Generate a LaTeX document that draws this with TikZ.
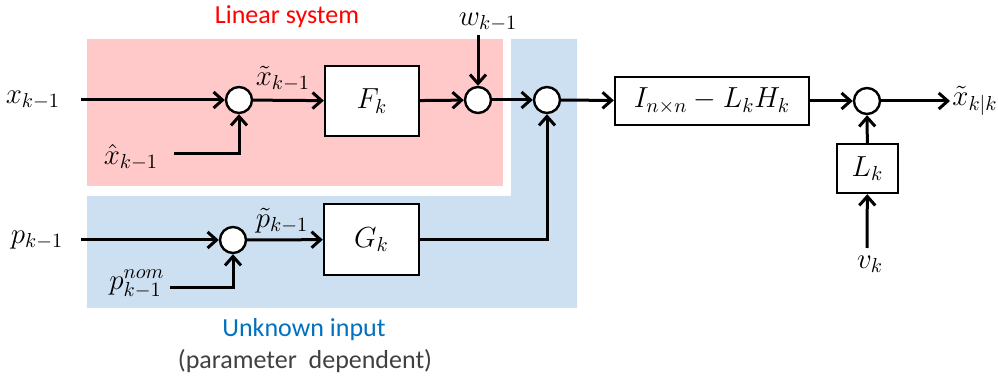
\RequirePackage{fix-cm}
\documentclass[tikz,border=0pt]{standalone}
\usepackage[no-math]{fontspec}
\newfontfamily\labelfont{Carlito}
\usetikzlibrary{arrows.meta}
\definecolor{syspink}{RGB}{255,201,201}
\definecolor{inblue}{RGB}{205,224,241}
\definecolor{inputblue}{RGB}{0,112,192}
\definecolor{notegray}{RGB}{64,64,64}

\begin{document}
\begin{tikzpicture}[x=0.5pt,y=-0.5pt,
    sig/.style={line width=1.5pt,-{Straight Barb[length=4.5pt,width=8pt]}},
    sum/.style={circle,draw,line width=1.2pt,fill=white,minimum size=13pt,inner sep=0pt},
    block/.style={draw,line width=1.2pt,fill=white,inner sep=0pt},
    var/.style={font=\fontsize{14.5}{16}\selectfont},
    caption/.style={font=\labelfont\fontsize{13}{15}\selectfont}]
    \useasboundingbox (0,0) rectangle (998,379);

    \fill[syspink] (87,39) rectangle (503,186);
    \fill[inblue] (87,196) -- (511,196) -- (511,39) -- (577,39) -- (577,308) -- (87,308) -- cycle;

    \node[caption,text=red] (linsys) at (287,17) {Linear system};
    \node[caption,text=inputblue] (unknown) at (304,330) {Unknown input};
    \node[caption,text=notegray] (paramdep) at (305,361) {(parameter~~dependent)};

    \node[sum] (s1) at (239,100) {};
    \node[sum] (s2) at (478,100) {};
    \node[sum] (s3) at (547,100) {};
    \node[sum] (s4) at (867,101) {};
    \node[sum] (s5) at (233,240) {};

    \node[block,var,minimum width=47pt,minimum height=35pt] (F) at (372,101) {$F_k$};
    \node[block,var,minimum width=47.5pt,minimum height=35.5pt] (G) at (371.5,239.5) {$G_k$};
    \node[block,var,minimum width=97pt,minimum height=24pt] (I) at (712,101) {$I_{n\times n}-L_kH_k$};
    \node[block,var,minimum width=30.5pt,minimum height=24.5pt] (L) at (867.5,168.5) {$L_k$};

    \node[var] (xlab) at (33,100) {$x_{k-1}$};
    \node[var] (xhatlab) at (131,157) {$\hat{x}_{k-1}$};
    \node[var] (xtillab) at (283,79) {$\tilde{x}_{k-1}$};
    \node[var] (wlab) at (488,22) {$w_{k-1}$};
    \node[var] (plab) at (37,240) {$p_{k-1}$};
    \node[var,inner sep=1pt] (pnomlab) at (137,284) {$p_{k-1}^{nom}$};
    \node[var] (ptillab) at (282,221) {$\tilde{p}_{k-1}$};
    \node[var] (vlab) at (870,264) {$v_k$};

    \coordinate (xin) at (81,100);
    \coordinate (xhatin) at (174,154);
    \coordinate (win) at (478,35);
    \coordinate (pin) at (81,240);
    \coordinate (pnomin) at (170,288);
    \coordinate (vin) at (867,248);
    \coordinate (xout) at (950,101);
    \node[var,anchor=west,inner sep=1pt] (xoutlab) at (xout) {$\tilde{x}_{k|k}$};

    \draw[sig] (xin) -- (s1);
    \draw[sig] (xhatin) -| (s1);
    \draw[sig] (s1) -- (F);
    \draw[sig] (F) -- (s2);
    \draw[sig] (win) -- (s2);
    \draw[sig] (s2) -- (s3);
    \draw[sig] (pin) -- (s5);
    \draw[sig] (pnomin) -| (s5);
    \draw[sig] (s5) -- (G);
    \draw[sig] (G) -| (s3);
    \draw[sig] (s3) -- (I);
    \draw[sig] (I) -- (s4);
    \draw[sig] (s4) -- (xout);
    \draw[sig] (L) -- (s4);
    \draw[sig] (vin) -- (L);
\end{tikzpicture}
\end{document}
